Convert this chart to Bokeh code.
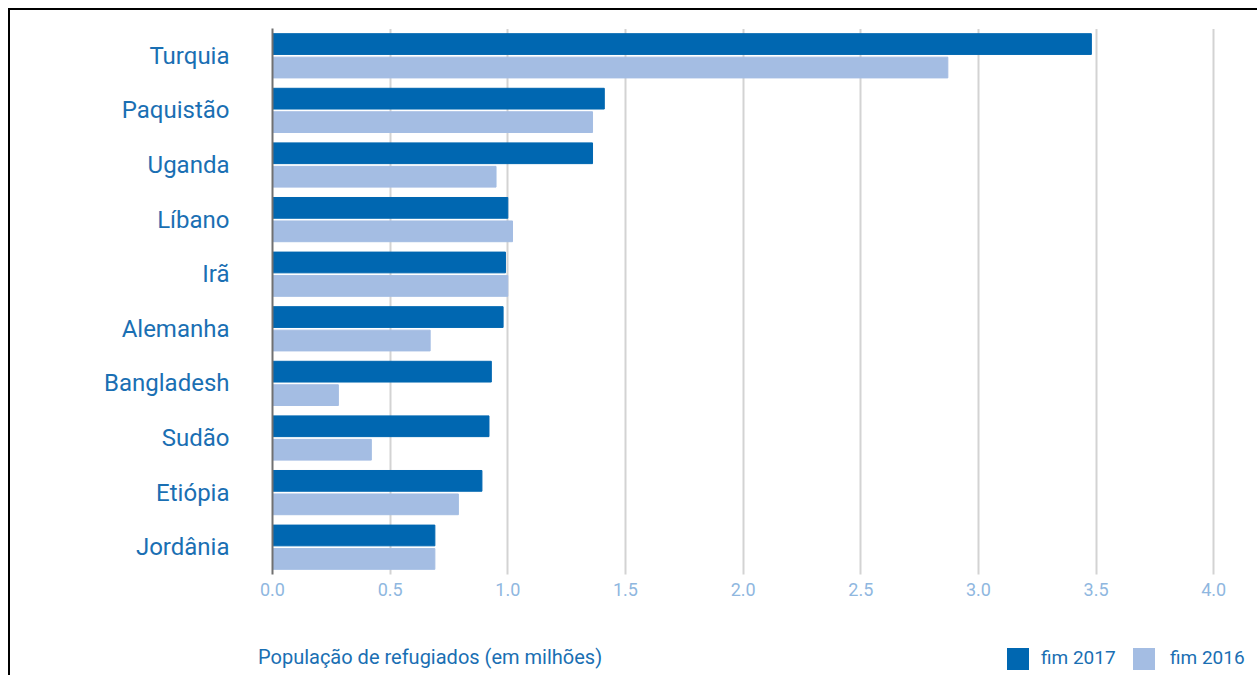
from bokeh.plotting import figure
from bokeh.layouts import column
from bokeh.models import (FactorRange, FixedTicker, NumeralTickFormatter,
                          ColumnDataSource, Div)
from bokeh.transform import dodge
from bokeh.embed import file_html
from bokeh.resources import INLINE

countries = ["Turquia", "Paquistão", "Uganda", "Líbano", "Irã", "Alemanha",
             "Bangladesh", "Sudão", "Etiópia", "Jordânia"]
fim_2017 = [3.48, 1.41, 1.36, 1.00, 0.99, 0.98, 0.93, 0.92, 0.89, 0.69]
fim_2016 = [2.87, 1.36, 0.95, 1.02, 1.00, 0.67, 0.28, 0.42, 0.79, 0.69]
x_ticks = [0.0, 0.5, 1.0, 1.5, 2.0, 2.5, 3.0, 3.5, 4.0]
series_labels = ["fim 2017", "fim 2016"]
axis_title = "População de refugiados (em milhões)"

DARK = "#0067b1"
LIGHT = "#a4bde3"
TEXT = "#1a6fb3"
TICK = "#8fb7df"
FONT = "Roboto"

src = ColumnDataSource(dict(country=countries, v2017=fim_2017, v2016=fim_2016))

p = figure(width=1245, height=630, output_backend="svg", toolbar_location=None,
           y_range=FactorRange(factors=countries[::-1]), x_range=(0, 4.05),
           min_border_left=262, min_border_right=30, min_border_top=18,
           min_border_bottom=66)
p.outline_line_color = None

r17 = p.hbar(y=dodge("country", 0.215, range=p.y_range), right="v2017", left=0,
             height=0.38, color=DARK, source=src)
r16 = p.hbar(y=dodge("country", -0.215, range=p.y_range), right="v2016", left=0,
             height=0.38, color=LIGHT, source=src)

p.ygrid.grid_line_color = None
p.xgrid.ticker = FixedTicker(ticks=x_ticks)
p.xgrid.grid_line_color = "#a8a8a8"
p.xgrid.grid_line_width = 2
p.xgrid.grid_line_dash = "1 1"

p.xaxis.ticker = FixedTicker(ticks=x_ticks)
p.xaxis.formatter = NumeralTickFormatter(format="0.0")
p.xaxis.axis_line_color = None
p.xaxis.major_tick_line_color = None
p.xaxis.minor_tick_line_color = None
p.xaxis.major_tick_out = 0
p.xaxis.major_label_text_color = TICK
p.xaxis.major_label_text_font = FONT
p.xaxis.major_label_text_font_size = "18px"
p.xaxis.major_label_standoff = 8

p.yaxis.axis_line_color = "#707070"
p.yaxis.axis_line_width = 2
p.yaxis.major_tick_line_color = None
p.yaxis.minor_tick_line_color = None
p.yaxis.major_tick_out = 0
p.yaxis.major_label_standoff = 43
p.yaxis.major_label_text_color = TEXT
p.yaxis.major_label_text_font = FONT
p.yaxis.major_label_text_font_size = "24px"

# footer: axis title (left) and legend (right)
swatch = ("<span style='position:absolute; left:{x}px; top:3px; width:22px; "
          "height:22px; background:{c};'></span>"
          "<span style='position:absolute; left:{tx}px; top:1px; font-size:19px; "
          "line-height:24px; white-space:nowrap;'>{t}</span>")
legend_html = swatch.format(x=992, c=DARK, tx=1026, t=series_labels[0]) + \
    swatch.format(x=1118, c=LIGHT, tx=1155, t=series_labels[1])
footer_html = (
    f"<div style='position:relative; width:1240px; height:30px; "
    f"font-family:{FONT}; color:{TEXT};'>"
    f"<span style='position:absolute; left:243px; top:0px; font-size:20px; "
    f"line-height:24px; white-space:nowrap;'>{axis_title}</span>"
    f"{legend_html}</div>"
)
footer = Div(text=footer_html, width=1245, height=34)

layout = column(p, footer, spacing=0,
                styles={"margin-left": "8px", "margin-top": "8px",
                        "border-top": "2px solid black",
                        "border-left": "2px solid black"})

open("out.html", "w").write(file_html(layout, INLINE))
